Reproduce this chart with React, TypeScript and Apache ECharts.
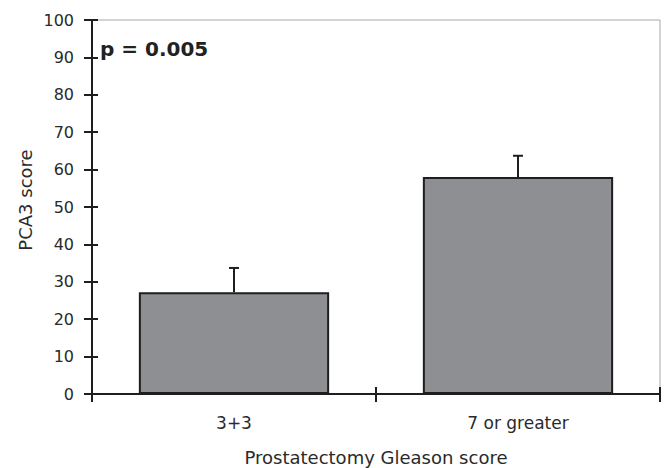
import React, { useEffect, useRef } from "react";
import * as echarts from "echarts";

const categories = ["3+3", "7 or greater"];
const means = [27.2, 58.0];
const upperErrors = [33.7, 63.7];
const yTicks = { min: 0, max: 100, interval: 10 };
const pLabel = "p = 0.005";
const yTitle = "PCA3 score";
const xTitle = "Prostatectomy Gleason score";

const FONT = "DejaVu Sans";
const TEXT = "#2a2a2a";
const LINE = "#1e1e1e";

export default function App() {
  const ref = useRef<HTMLDivElement>(null);
  useEffect(() => {
    if (!ref.current) return;
    const chart = echarts.init(ref.current, undefined, { renderer: "svg" });
    const errData = categories.map((c, i) => [i, means[i], upperErrors[i]]);
    chart.setOption({
      animation: false,
      backgroundColor: "#ffffff",
      grid: {
        left: 92,
        right: 6,
        top: 20,
        bottom: 74,
        outerBoundsMode: "none",
        containLabel: false,
        show: true,
        borderColor: "#a8a8a8",
        borderWidth: 1,
        backgroundColor: "transparent",
      },
      xAxis: [
        {
          type: "category",
          data: categories,
          axisLine: { show: true, lineStyle: { color: LINE, width: 2 } },
          axisTick: { show: true, length: 8, lineStyle: { color: LINE, width: 2 } },
          axisLabel: { color: TEXT, fontFamily: FONT, fontSize: 17, margin: 20 },
          name: xTitle,
          nameLocation: "middle",
          nameGap: 54,
          nameTextStyle: { color: TEXT, fontFamily: FONT, fontSize: 18 },
          splitLine: { show: false },
        },
        {
          type: "category",
          data: categories,
          position: "bottom",
          axisLine: { show: false },
          axisTick: { show: true, inside: true, length: 7, lineStyle: { color: LINE, width: 2 } },
          axisLabel: { show: false },
          splitLine: { show: false },
        },
      ],
      yAxis: [
        {
          type: "value",
          min: yTicks.min,
          max: yTicks.max,
          interval: yTicks.interval,
          axisLine: { show: true, lineStyle: { color: LINE, width: 2 } },
          axisTick: { show: true, length: 8, lineStyle: { color: LINE, width: 2 } },
          axisLabel: { color: TEXT, fontFamily: FONT, fontSize: 16, margin: 18 },
          splitLine: { show: false },
        },
        {
          type: "value",
          min: yTicks.min,
          max: yTicks.max,
          interval: yTicks.interval,
          position: "left",
          axisLine: { show: false },
          axisTick: { show: true, inside: true, length: 6, lineStyle: { color: LINE, width: 2 } },
          axisLabel: { show: false },
          splitLine: { show: false },
        },
      ],
      graphic: [
        {
          type: "text",
          left: 100,
          top: 39,
          style: {
            text: pLabel,
            fill: "#222",
            font: `bold 20px "${FONT}"`,
          },
        },
        {
          type: "text",
          x: 25,
          y: 200,
          rotation: Math.PI / 2,
          style: {
            text: yTitle,
            fill: TEXT,
            font: `18px "${FONT}"`,
            align: "center",
            verticalAlign: "middle",
          },
        },
      ],
      series: [
        {
          type: "bar",
          data: means,
          barWidth: "67%",
          itemStyle: { color: "#8e8f93", borderColor: LINE, borderWidth: 2 },
          z: 2,
        },
        {
          type: "custom",
          data: errData,
          z: 3,
          renderItem: (params: any, api: any) => {
            const x = api.value(0);
            const lo = api.coord([x, api.value(1)]);
            const hi = api.coord([x, api.value(2)]);
            const half = 5;
            return {
              type: "group",
              children: [
                {
                  type: "line",
                  shape: { x1: lo[0], y1: lo[1], x2: hi[0], y2: hi[1] },
                  style: { stroke: LINE, lineWidth: 2 },
                },
                {
                  type: "line",
                  shape: { x1: hi[0] - half, y1: hi[1], x2: hi[0] + half, y2: hi[1] },
                  style: { stroke: LINE, lineWidth: 2 },
                },
              ],
            };
          },
        },
      ],
    });
    return () => chart.dispose();
  }, []);
  return (
    <div
      ref={ref}
      style={{ position: "absolute", left: 0, top: 0, width: 666, height: 468 }}
    />
  );
}
